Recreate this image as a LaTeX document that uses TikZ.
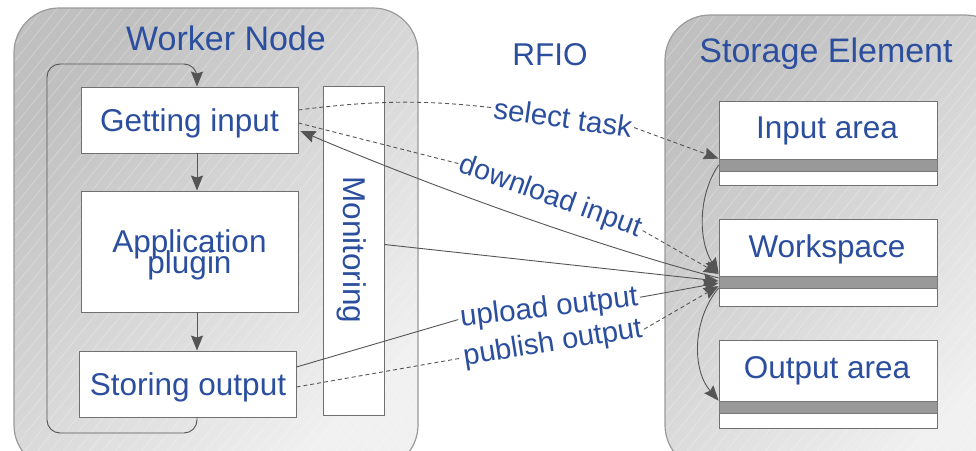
\documentclass[tikz,border=0pt]{standalone}
\usepackage{fontspec}
\setmainfont{Liberation Sans}
\usetikzlibrary{arrows.meta,calc}
\definecolor{tblue}{HTML}{2B4F9E}
\definecolor{linegray}{HTML}{555555}
\definecolor{boxborder}{HTML}{707070}
\definecolor{panelborder}{HTML}{9A9A9A}
\definecolor{bargray}{HTML}{999999}
\definecolor{barborder}{HTML}{777777}
\definecolor{panelA}{HTML}{C0C0C0}
\definecolor{panelB}{HTML}{F0F0F0}
\begin{document}
\begin{tikzpicture}[x=1pt,y=-1pt,
  >={Stealth[length=15pt,width=12pt,inset=2pt]},
  panelfill/.style={rounded corners=45pt, top color=panelA, bottom color=panelB, shading angle=45},
  panelline/.style={draw=panelborder, line width=1.2pt, rounded corners=45pt},
  hatch/.style={white, opacity=0.35, line width=0.5pt},
  box/.style={draw=boxborder, fill=white, line width=0.9pt, inner sep=0pt},
  bar/.style={draw=barborder, fill=bargray, line width=0.8pt, inner sep=0pt},
  txt/.style={text=tblue, inner sep=0pt, font=\fontsize{31.5}{31.5}\selectfont},
  ttl/.style={text=tblue, inner sep=0pt, font=\fontsize{34}{34}\selectfont},
  lbl/.style={text=tblue, inner sep=2pt},
  conn/.style={draw=linegray, line width=0.9pt},
  dconn/.style={draw=linegray, line width=0.9pt, dash pattern=on 4pt off 3pt}
]
\useasboundingbox (0,0) rectangle (976,450);
\clip (0,0) rectangle (976,450);
\fill[white] (0,0) rectangle (976,450);

% panels
\shade[panelfill] (14,8) rectangle (418,470);
\begin{scope}
  \clip[rounded corners=45pt] (14,8) rectangle (418,470);
  \foreach \i in {-420,-407,...,440} \draw[hatch] (\i,470) -- ++(380,-470);
\end{scope}
\draw[panelline] (14,8) rectangle (418,470);

\shade[panelfill] (665,15) rectangle (1010,470);
\begin{scope}
  \clip[rounded corners=45pt] (665,15) rectangle (1010,470);
  \foreach \i in {230,243,...,1020} \draw[hatch] (\i,470) -- ++(380,-470);
\end{scope}
\draw[panelline] (665,15) rectangle (1010,470);

% titles
\node[ttl, anchor=base] (wn) at (226,50) {Worker Node};
\node[ttl, anchor=base] (se) at (826,62) {Storage Element};
\node[txt, anchor=base] (rfio) at (550,65) {RFIO};

% worker boxes
\node[box, minimum width=217pt, minimum height=66pt] (gi) at (189.5,120) {};
\node[box, minimum width=217pt, minimum height=121pt] (ap) at (189.5,251.5) {};
\node[box, minimum width=217pt, minimum height=66pt] (so) at (187.5,384) {};
\node[box, minimum width=61pt, minimum height=329pt] (mon) at (353.5,250.5) {};

\node[txt, anchor=base] (tgi) at (189.5,131) {Getting input};
\node[txt, anchor=base] (tap1) at (189.5,252) {Application};
\node[txt, anchor=base] (tap2) at (189.5,273) {plugin};
\node[txt, anchor=base] (tso) at (188,395) {Storing output};
\node[txt, anchor=base, rotate=-90] (tmon) at (343,250) {Monitoring};

% storage boxes
\node[box, minimum width=218pt, minimum height=84pt] (ia) at (828,143) {};
\node[box, minimum width=218pt, minimum height=87pt] (ws) at (828,262.5) {};
\node[box, minimum width=218pt, minimum height=88pt] (oa) at (828,384) {};
\node[bar, minimum width=218pt, minimum height=12pt] (iabar) at (828,165) {};
\node[bar, minimum width=218pt, minimum height=12pt] (wsbar) at (828,282) {};
\node[bar, minimum width=218pt, minimum height=12pt] (oabar) at (828,407) {};
\node[txt, anchor=base] (tia) at (827,138) {Input area};
\node[txt, anchor=base] (tws) at (827,257) {Workspace};
\node[txt, anchor=base] (toa) at (827,378) {Output area};

% worker flow
\draw[conn, ->] ($(gi.south)+(7.5,0)$) -- ($(ap.north)+(7.5,0)$);
\draw[conn, ->] ($(ap.south)+(7.5,0)$) -- ($(so.north)+(9.5,0)$);
\draw[conn, ->, rounded corners=13pt] ($(so.south)+(9.5,0)$) |- (47,433) |- (197,64) -- ($(gi.north)+(7.5,0)$);

% labels
\node[lbl, font=\fontsize{29.5}{29.5}\selectfont, rotate=-8, anchor=base] (selL) at (561.5,128) {select task};
\node[lbl, font=\fontsize{28.5}{28.5}\selectfont, rotate=-20, anchor=base] (dlL) at (548,204) {download input};
\node[lbl, font=\fontsize{29.5}{29.5}\selectfont, rotate=7, anchor=base] (upL) at (550,316) {upload output};
\node[lbl, font=\fontsize{29}{29}\selectfont, rotate=9, anchor=base] (puL) at (554,351) {publish output};

% connectors
\draw[dconn] ($(gi.east)+(0,-10)$) .. controls (390,98) and (440,102) .. (selL.west);
\draw[dconn, ->] (selL.east) -- (iabar.north west);
\draw[dconn] ($(gi.east)+(0,3)$) -- (dlL.west);
\draw[dconn, ->] (dlL.east) -- ($(wsbar.west)+(0,-8)$);
\draw[conn, <-] ($(gi.east)+(2,11)$) .. controls (440,190) and (600,247) .. ($(wsbar.west)+(0,-4)$);
\draw[conn, ->] ($(mon.east)+(0,-6)$) -- ($(wsbar.west)+(0,-1)$);
\draw[conn] ($(so.east)+(0,-17)$) -- (upL.west);
\draw[conn, ->] (upL.east) -- ($(wsbar.west)+(0,1)$);
\draw[dconn] ($(so.east)+(0,3)$) -- (puL.west);
\draw[dconn, ->] (puL.east) -- ($(wsbar.west)+(0,4)$);
\draw[conn, ->] (iabar.west) .. controls (698,195) and (698,240) .. ($(wsbar.west)+(0,-9)$);
\draw[conn, ->] ($(wsbar.west)+(0,6)$) .. controls (692,320) and (692,370) .. (oabar.north west);
\end{tikzpicture}
\end{document}
